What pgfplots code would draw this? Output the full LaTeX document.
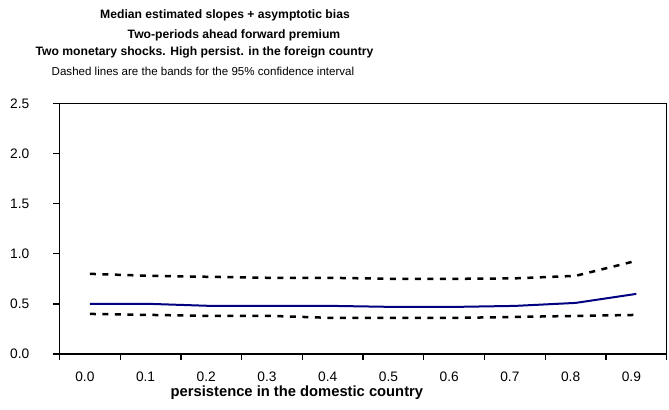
\documentclass[border=0pt]{standalone}
\usepackage{fontspec}
\setmainfont{Liberation Sans}
\usepackage{pgfplots}
\pgfplotsset{compat=1.18}
\definecolor{navyline}{RGB}{0,0,128}

\begin{document}
\begin{tikzpicture}
\useasboundingbox (0,0) rectangle (669bp,-410bp);
\begin{axis}[
    at={(59.5bp,-354bp)}, anchor=south west,
    scale only axis, width=607.2bp, height=250.5bp,
    xmin=-0.5, xmax=9.5, ymin=0, ymax=2.5,
    axis line style={line width=1.3bp},
    every tick/.style={black, line width=1.3bp},
    tick align=outside, major tick length=6bp,
    xtick pos=lower, ytick pos=left,
    xtick={-0.5,0.5,...,9.5}, xticklabels={,,,,,,,,,,,},
    extra x ticks={0,1,2,3,4,5,6,7,8,9},
    extra x tick labels={0.0,0.1,0.2,0.3,0.4,0.5,0.6,0.7,0.8,0.9},
    extra x tick style={major tick length=0pt,
        tick label style={anchor=center, yshift=-23bp, xshift=-5bp}},
    ytick={0,0.5,...,2.5},
    /pgf/number format/fixed, /pgf/number format/fixed zerofill,
    /pgf/number format/precision=1,
    yticklabel style={anchor=east, inner sep=0pt, xshift=-24bp},
    tick label style={font=\fontsize{13.8}{15}\selectfont},
    /pgf/number format/assume math mode=true,
    xlabel={persistence in the domestic country},
    xlabel style={at={(axis description cs:0.391,-0.156)}, anchor=center,
        font=\fontsize{14.8}{16}\selectfont\bfseries},
]
\addplot[navyline, line width=2bp] coordinates {
    (0,0.50) (1,0.50) (2,0.48) (3,0.48) (4,0.48)
    (5,0.47) (6,0.47) (7,0.48) (8,0.51) (9,0.60)
};
\addplot[black, line width=2.5bp, dash pattern=on 6bp off 6.5bp] coordinates {
    (0,0.80) (1,0.78) (2,0.77) (3,0.76) (4,0.76)
    (5,0.75) (6,0.75) (7,0.755) (8,0.78) (9,0.93)
};
\addplot[black, line width=2.5bp, dash pattern=on 6bp off 6.5bp] coordinates {
    (0,0.40) (1,0.39) (2,0.38) (3,0.38) (4,0.36)
    (5,0.36) (6,0.36) (7,0.37) (8,0.38) (9,0.39)
};
\end{axis}
\node[font=\fontsize{12.2}{14}\selectfont\bfseries] at (225bp,-15bp) {Median estimated slopes + asymptotic bias};
\node[font=\fontsize{12.2}{14}\selectfont\bfseries] at (234bp,-35bp) {Two-periods ahead forward premium};
\node[font=\fontsize{12.2}{14}\selectfont\bfseries] at (204.5bp,-52.7bp) {Two monetary shocks. High persist. in the foreign country};
\node[font=\fontsize{11.6}{14}\selectfont] at (203bp,-71.7bp) {Dashed lines are the bands for the 95\% confidence interval};
\end{tikzpicture}
\end{document}
